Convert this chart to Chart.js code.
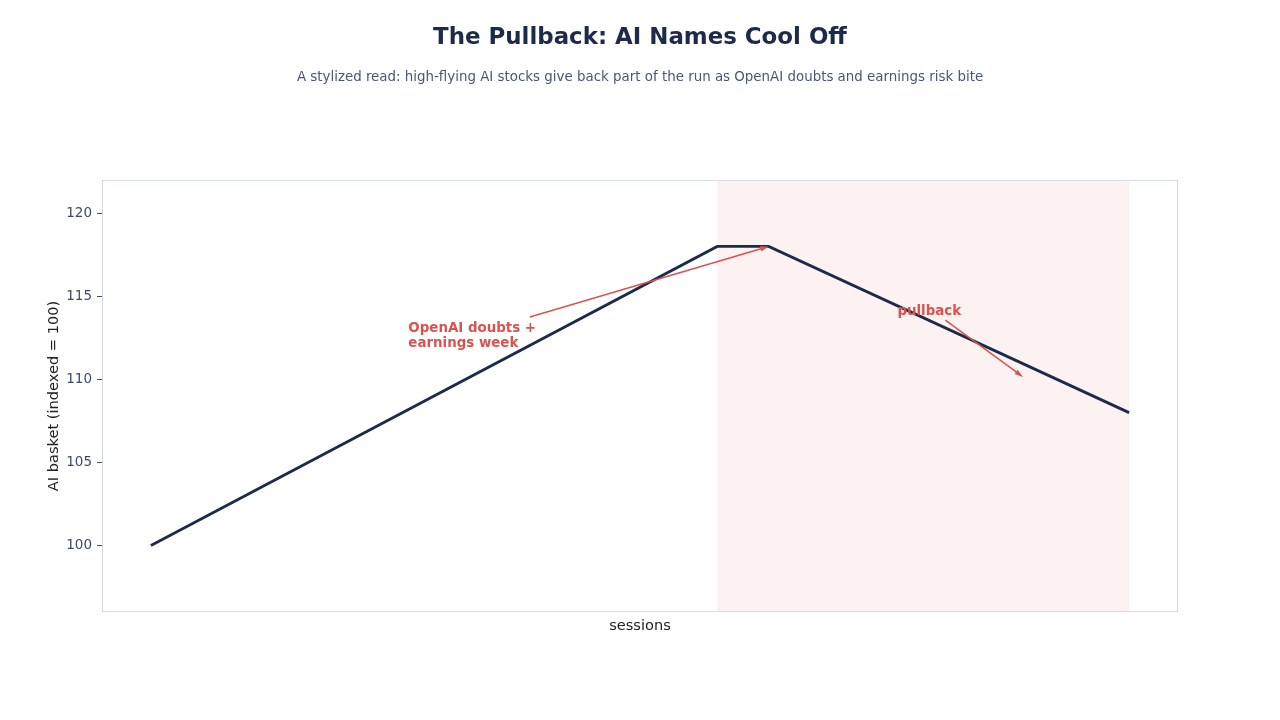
<!DOCTYPE html>
<html>
<head>
<meta charset="utf-8">
<script src="https://cdn.jsdelivr.net/npm/chart.js@4"></script>
<style>
  html, body { margin: 0; padding: 0; background: #fff; }
  #wrap { width: 1280px; height: 720px; }
</style>
</head>
<body>
<div id="wrap"><canvas id="chart" width="1280" height="720"></canvas></div>
<script>
// ---------------- DATA ----------------
const sessions = [0, 11, 12, 19];
const basket = [100, 118, 118, 108];
const yTicks = [100, 105, 110, 115, 120];
const pullbackSpan = [11, 19];

const titleText = "The Pullback: AI Names Cool Off";
const subtitleText = "A stylized read: high-flying AI stocks give back part of the run as OpenAI doubts and earnings risk bite";

// annotations: text lines, text anchor, arrow from / to (data coords)
const noteOpenAI = { lines: ["OpenAI doubts +", "earnings week"], x: 5, y: 112.65, from: [7.36, 113.75], to: [12, 118] };
const notePullback = { lines: ["pullback"], x: 14.5, y: 114.15, from: [15.43, 113.57], to: [16.94, 110.15] };

const navy = "#1e2a4a";
const red = "#d9534f";
const font = "'DejaVu Sans', sans-serif";

// ---------------- PLUGINS ----------------
const decor = {
    id: "decor",
    beforeDatasetsDraw(chart) {
        const { ctx, chartArea, scales } = chart;
        const x0 = scales.x.getPixelForValue(pullbackSpan[0]);
        const x1 = scales.x.getPixelForValue(pullbackSpan[1]);
        ctx.save();
        ctx.fillStyle = "rgba(217, 83, 79, 0.08)";
        ctx.fillRect(x0, chartArea.top, x1 - x0, chartArea.bottom - chartArea.top);
        ctx.restore();
    },
    afterDatasetsDraw(chart) {
        const { ctx, chartArea, scales } = chart;
        ctx.save();
        // frame
        ctx.strokeStyle = "#d5dbe8";
        ctx.lineWidth = 1;
        ctx.strokeRect(chartArea.left + 0.5, chartArea.top + 0.5, chartArea.right - chartArea.left - 1, chartArea.bottom - chartArea.top - 1);

        // annotations
        [noteOpenAI, notePullback].forEach(n => {
            const fx = scales.x.getPixelForValue(n.from[0]);
            const fy = scales.y.getPixelForValue(n.from[1]);
            const tx = scales.x.getPixelForValue(n.to[0]);
            const ty = scales.y.getPixelForValue(n.to[1]);
            const ang = Math.atan2(ty - fy, tx - fx);
            const head = 9;
            ctx.strokeStyle = red;
            ctx.fillStyle = red;
            ctx.lineWidth = 1.5;
            ctx.beginPath();
            ctx.moveTo(fx, fy);
            ctx.lineTo(tx - Math.cos(ang) * head * 0.8, ty - Math.sin(ang) * head * 0.8);
            ctx.stroke();
            ctx.beginPath();
            ctx.moveTo(tx, ty);
            ctx.lineTo(tx - head * Math.cos(ang - 0.3), ty - head * Math.sin(ang - 0.3));
            ctx.lineTo(tx - head * Math.cos(ang + 0.3), ty - head * Math.sin(ang + 0.3));
            ctx.closePath();
            ctx.fill();

            const px = scales.x.getPixelForValue(n.x);
            const py = scales.y.getPixelForValue(n.y) + 1;
            ctx.font = "bold 13.4px " + font;
            ctx.textAlign = "left";
            ctx.textBaseline = "middle";
            const lh = 15;
            const start = py - (n.lines.length - 1) * lh / 2;
            n.lines.forEach((l, i) => ctx.fillText(l, px, start + i * lh));
        });
        ctx.restore();
    },
    afterDraw(chart) {
        const { ctx, chartArea } = chart;
        ctx.save();
        ctx.textAlign = "center";
        ctx.textBaseline = "middle";
        ctx.fillStyle = navy;
        ctx.font = "bold 22.9px " + font;
        ctx.fillText(titleText, 640, 38);
        ctx.fillStyle = "#4a5672";
        ctx.font = "13.4px " + font;
        ctx.fillText(subtitleText, 640, 78);

        // axis titles
        ctx.fillStyle = "#222222";
        ctx.font = "14.6px " + font;
        ctx.fillText("sessions", (chartArea.left + chartArea.right) / 2, 626);
        ctx.translate(54, (chartArea.top + chartArea.bottom) / 2);
        ctx.rotate(-Math.PI / 2);
        ctx.fillText("AI basket (indexed = 100)", 0, 0);
        ctx.restore();
    }
};

// ---------------- CHART ----------------
new Chart(document.getElementById("chart"), {
    type: "line",
    data: {
        datasets: [{
            label: "AI basket",
            data: sessions.map((s, i) => ({ x: s, y: basket[i] })),
            borderColor: navy,
            borderWidth: 2.8,
            pointRadius: 0,
            tension: 0,
            fill: false
        }]
    },
    options: {
        responsive: false,
        animation: false,
        layout: { padding: { top: 180, right: 102, left: 0, bottom: 0 } },
        plugins: {
            legend: { display: false },
            tooltip: { enabled: false }
        },
        scales: {
            x: {
                type: "linear",
                min: -0.95,
                max: 19.95,
                ticks: { display: false },
                grid: { display: false },
                border: { display: false },
                afterFit(scale) { scale.height = 108; }
            },
            y: {
                min: 96,
                max: 122,
                afterBuildTicks(scale) { scale.ticks = yTicks.map(v => ({ value: v })); },
                ticks: {
                    color: "#3f4a66",
                    font: { family: font, size: 13.5 },
                    padding: 5
                },
                grid: {
                    drawOnChartArea: false,
                    drawTicks: true,
                    tickLength: 5,
                    color: "#3f4a66"
                },
                border: { display: false },
                afterFit(scale) { scale.width = 102; }
            }
        }
    },
    plugins: [decor]
});
</script>
</body>
</html>
